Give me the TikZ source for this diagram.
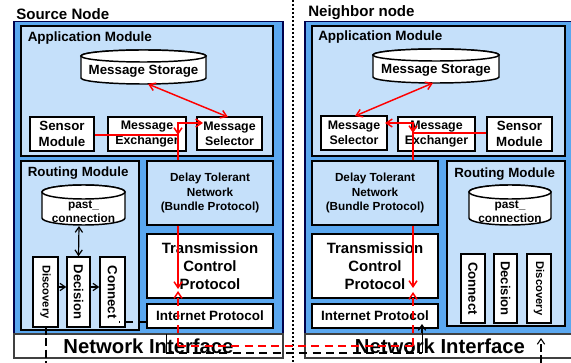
\documentclass[tikz,border=0pt]{standalone}
\usepackage{fontspec}
\setmainfont{Liberation Sans}
\usetikzlibrary{arrows.meta}
\definecolor{outerblue}{HTML}{5BA8F0}
\definecolor{lightblue}{HTML}{C5E0FA}
\definecolor{redline}{HTML}{FF0000}
\tikzset{
 every node/.style={font=\bfseries,align=center,inner sep=0pt},
 boxw/.style={draw=black,line width=1.1pt,fill=white},
 boxb/.style={draw=black,line width=1.1pt,fill=lightblue},
 outer/.style={draw=black!70!blue,line width=1pt,fill=outerblue},
 netif/.style={draw=black!75,line width=1pt,fill=white},
 cylbody/.style={draw=black,line width=1.1pt,fill=white},
 redar/.style={draw=redline,line width=1.1pt,-{Straight Barb[length=4.5pt,width=6pt]}},
 redbi/.style={draw=redline,line width=1.1pt,{Straight Barb[length=4.5pt,width=6pt]}-{Straight Barb[length=4.5pt,width=6pt]}},
 redplain/.style={draw=redline,line width=1.1pt},
 reddash/.style={draw=redline,line width=1.1pt,dash pattern=on 6pt off 4pt},
 blackar/.style={draw=black,line width=.9pt,-{Straight Barb[length=4pt,width=5.5pt]}},
 blackbi/.style={draw=black,line width=.9pt,{Straight Barb[length=4pt,width=5.5pt]}-{Straight Barb[length=4pt,width=5.5pt]}},
 blackdash/.style={draw=black,line width=.8pt,dash pattern=on 6pt off 4pt},
 blackdd/.style={draw=black,line width=.8pt,dash pattern=on 6pt off 2.5pt},
 fTitle/.style={font=\fontsize{11.3}{13}\selectfont\bfseries},
 fAM/.style={font=\fontsize{10.1}{12}\selectfont\bfseries},
 fRM/.style={font=\fontsize{10}{12}\selectfont\bfseries},
 fST/.style={font=\fontsize{10}{12}\selectfont\bfseries},
 fS/.style={font=\fontsize{10}{12.2}\selectfont\bfseries},
 fM/.style={font=\fontsize{9.3}{11.2}\selectfont\bfseries},
 fD/.style={font=\fontsize{8.8}{10.8}\selectfont\bfseries},
 fIP/.style={font=\fontsize{10.1}{12}\selectfont\bfseries},
 fT/.style={font=\fontsize{11.2}{13.6}\selectfont\bfseries},
 fN/.style={font=\fontsize{15.2}{17}\selectfont\bfseries},
 fP/.style={font=\fontsize{8.9}{10}\selectfont\bfseries},
}
\newcommand{\bx}[7]{\node[#6,anchor=center,minimum width={(#4-#2)*0.75pt},minimum height={(#5-#3)*0.75pt}] (#1) at ({(#2+#4)/2},{(#3+#5)/2}) {#7};}
% cylinder: #1 name, #2-#5 box, #6 half height of the top ellipse, #7 text options, #8 text
\newcommand{\cy}[8]{%
 \draw[cylbody] (#2,#3+#6) arc[start angle=180,end angle=360,x radius={(#4-#2)/2},y radius=#6]
   -- (#4,#5-#6) arc[start angle=0,end angle=180,x radius={(#4-#2)/2},y radius=#6] -- cycle;
 \draw[cylbody] (#2,#3+#6) arc[start angle=180,end angle=0,x radius={(#4-#2)/2},y radius=#6]
   arc[start angle=360,end angle=180,x radius={(#4-#2)/2},y radius=#6] -- cycle;
 \node[#7,anchor=center,minimum width={(#4-#2)*0.75pt},minimum height={(#5-#3)*0.75pt}] (#1) at ({(#2+#4)/2},{(#3+#5)/2}) {#8};}
\newcommand{\vtext}[2]{\rotatebox{-90}{\fontsize{#1}{10}\selectfont #2}}
\begin{document}
\begin{tikzpicture}[x=0.75pt,y=-0.75pt]
\useasboundingbox (0,0) rectangle (571,363);
\fill[white] (0,0) rectangle (571,363);
% left node
\bx{outL}{14}{21.5}{283}{336}{outer}{}
\bx{appL}{21}{26}{273}{156}{boxb}{}
\bx{rouL}{21}{161}{139}{330}{boxb}{}
\bx{dtnL}{147}{161}{273}{225}{boxb,fD}{Delay Tolerant\\Network\\(Bundle Protocol)}
\bx{tcpL}{147}{234}{273}{298}{boxw,fT}{Transmission\\Control\\Protocol}
\bx{ipL}{147}{304}{273}{328}{boxw,fIP}{Internet Protocol}
\bx{netL}{14}{334}{283}{358}{netif,fN}{Network Interface}
\node[fTitle,anchor=base west] (srcT) at (16,20) {Source Node};
\node[fAM,anchor=base west] (appTL) at (27.5,42) {Application Module};
\node[fRM,anchor=base west] (rouTL) at (27.5,177) {Routing Module};
\cy{stoL}{81}{50}{206}{84}{6}{fST,yshift=-3.5pt}{Message Storage}
\bx{senL}{30}{117}{94}{151}{boxw,fS}{Sensor\\Module}
\bx{excL}{108}{117}{186}{151}{boxw,fM}{Message\\Exchanger}
\bx{selL}{197}{117}{262}{150}{boxw,fM}{Message\\Selector}
\cy{pasL}{42}{185}{125}{225}{7}{fP,yshift=-5pt}{past\_\\connection}
\bx{disL}{33}{257}{58}{327}{boxw}{\vtext{8.4}{Discovery}}
\bx{decL}{67}{257}{90}{327}{boxw}{\vtext{9.8}{Decision}}
\bx{conL}{100}{257}{125}{327}{boxw}{\vtext{9.9}{Connect}}
% right node
\bx{outR}{305}{21.5}{575}{336}{outer}{}
\bx{appR}{312}{26}{565}{156}{boxb}{}
\bx{rouR}{447}{161}{565}{326}{boxb}{}
\bx{dtnR}{312}{161}{438}{225}{boxb,fD}{Delay Tolerant\\Network\\(Bundle Protocol)}
\bx{tcpR}{312}{234}{438}{298}{boxw,fT}{Transmission\\Control\\Protocol}
\bx{ipR}{312}{304}{438}{328}{boxw,fIP}{Internet Protocol}
\bx{netR}{305}{334}{575}{358}{netif,fN}{Network Interface}
\node[fTitle,anchor=base west] (negT) at (308,17) {Neighbor node};
\node[fAM,anchor=base west] (appTR) at (318,41) {Application Module};
\node[fRM,anchor=base west] (rouTR) at (454,178) {Routing Module};
\cy{stoR}{373}{49}{499}{83}{6}{fST,yshift=-3.5pt}{Message Storage}
\bx{selR}{321}{116}{387}{150}{boxw,fM}{Message\\Selector}
\bx{excR}{398}{117}{475}{151}{boxw,fM}{Message\\Exchanger}
\bx{senR}{487}{117}{552}{151}{boxw,fS}{Sensor\\Module}
\cy{pasR}{469}{185}{551}{225}{7}{fP,yshift=-5pt}{past\_\\connection}
\bx{conR}{461}{254}{485}{323}{boxw}{\vtext{9.9}{Connect}}
\bx{decR}{494}{254}{517}{323}{boxw}{\vtext{9.8}{Decision}}
\bx{disR}{527}{254}{551}{323}{boxw}{\vtext{8.4}{Discovery}}
% helper coordinates
\coordinate (busL) at (178,123);
\coordinate (busR) at (413,123);
\coordinate (senLy) at (178,135);
\coordinate (senRy) at (413,133);
\coordinate (selLtip) at (203,123);
\coordinate (selRtip) at (385,123);
\coordinate (meetL) at (178,289);
\coordinate (meetLb) at (178,291);
\coordinate (meetR) at (413,288);
\coordinate (meetRb) at (413,292);
\coordinate (wireL) at (178,346);
\coordinate (wireR) at (413,346);
\coordinate (sockL) at (166,353);
\coordinate (sockR) at (422,353);
\coordinate (tickL) at (166,334);
\coordinate (tipIPL) at (119,322);
\coordinate (tipIPR) at (422,324);
\coordinate (dotT) at (293,0);
\coordinate (dotB) at (293,363);
\coordinate (ddLt) at (46,327);
\coordinate (ddLb) at (46,363);
\coordinate (ddRb) at (541,363);
\coordinate (ddRt) at (541,338);
\coordinate (pasLb) at (79,226);
\coordinate (stoLb) at (148,84);
\coordinate (stoRb) at (433,83);
\coordinate (selLt) at (228,117);
\coordinate (selRt) at (355,116);
% dotted divider
\draw[black,line width=1.5pt,dash pattern=on 1.5pt off 1.5pt] (dotT) -- (dotB);
% black connectors
\draw[blackbi] (pasLb) -- (decL.north);
\draw[blackar] (disL.east |- 0,287) -- (decL.west |- 0,287);
\draw[blackar] (decL.east |- 0,287) -- (conL.west |- 0,287);
\draw[blackdash] (ipL.west |- 0,322) -- (tipIPL);
\draw[blackdd] (ddLt) -- (ddLb);
\draw[blackdd,-{Straight Barb[length=4pt,width=5.5pt]}] (ddRb) -- (ddRt);
\draw[black,line width=.5pt] (tickL) -- (sockL);
\draw[blackdash] (sockL) -- (sockR);
\draw[black,line width=.5pt] (sockR) -- (sockR |- netR.north);
\draw[blackar] (sockR |- netR.north) -- (tipIPR);
% red connectors
\draw[redbi] (stoLb) -- (selLt);
\draw[redbi] (stoRb) -- (selRt);
\draw[redplain] (senL.east |- senLy) -- (senLy);
\draw[redar] (busL |- 0,128) -- (senLy);
\draw[redar] (busL |- dtnL.north) -- (busL) -- (selLtip);
\draw[redar] (busR |- dtnR.north) -- (busR) -- (selRtip);
\draw[redplain] (senR.west |- senRy) -- (senRy);
\draw[redar] (busR |- 0,126) -- (senRy);
\draw[redar] (busL |- dtnL.south) -- (meetL);
\draw[redar] (busR |- dtnR.south) -- (meetR);
\draw[reddash] (wireL) -- (wireR);
\draw[reddash,-{Straight Barb[length=4.5pt,width=6pt]}] (wireL) -- (meetLb);
\draw[reddash,-{Straight Barb[length=4.5pt,width=6pt]}] (wireR) -- (meetRb);
\end{tikzpicture}
\end{document}
